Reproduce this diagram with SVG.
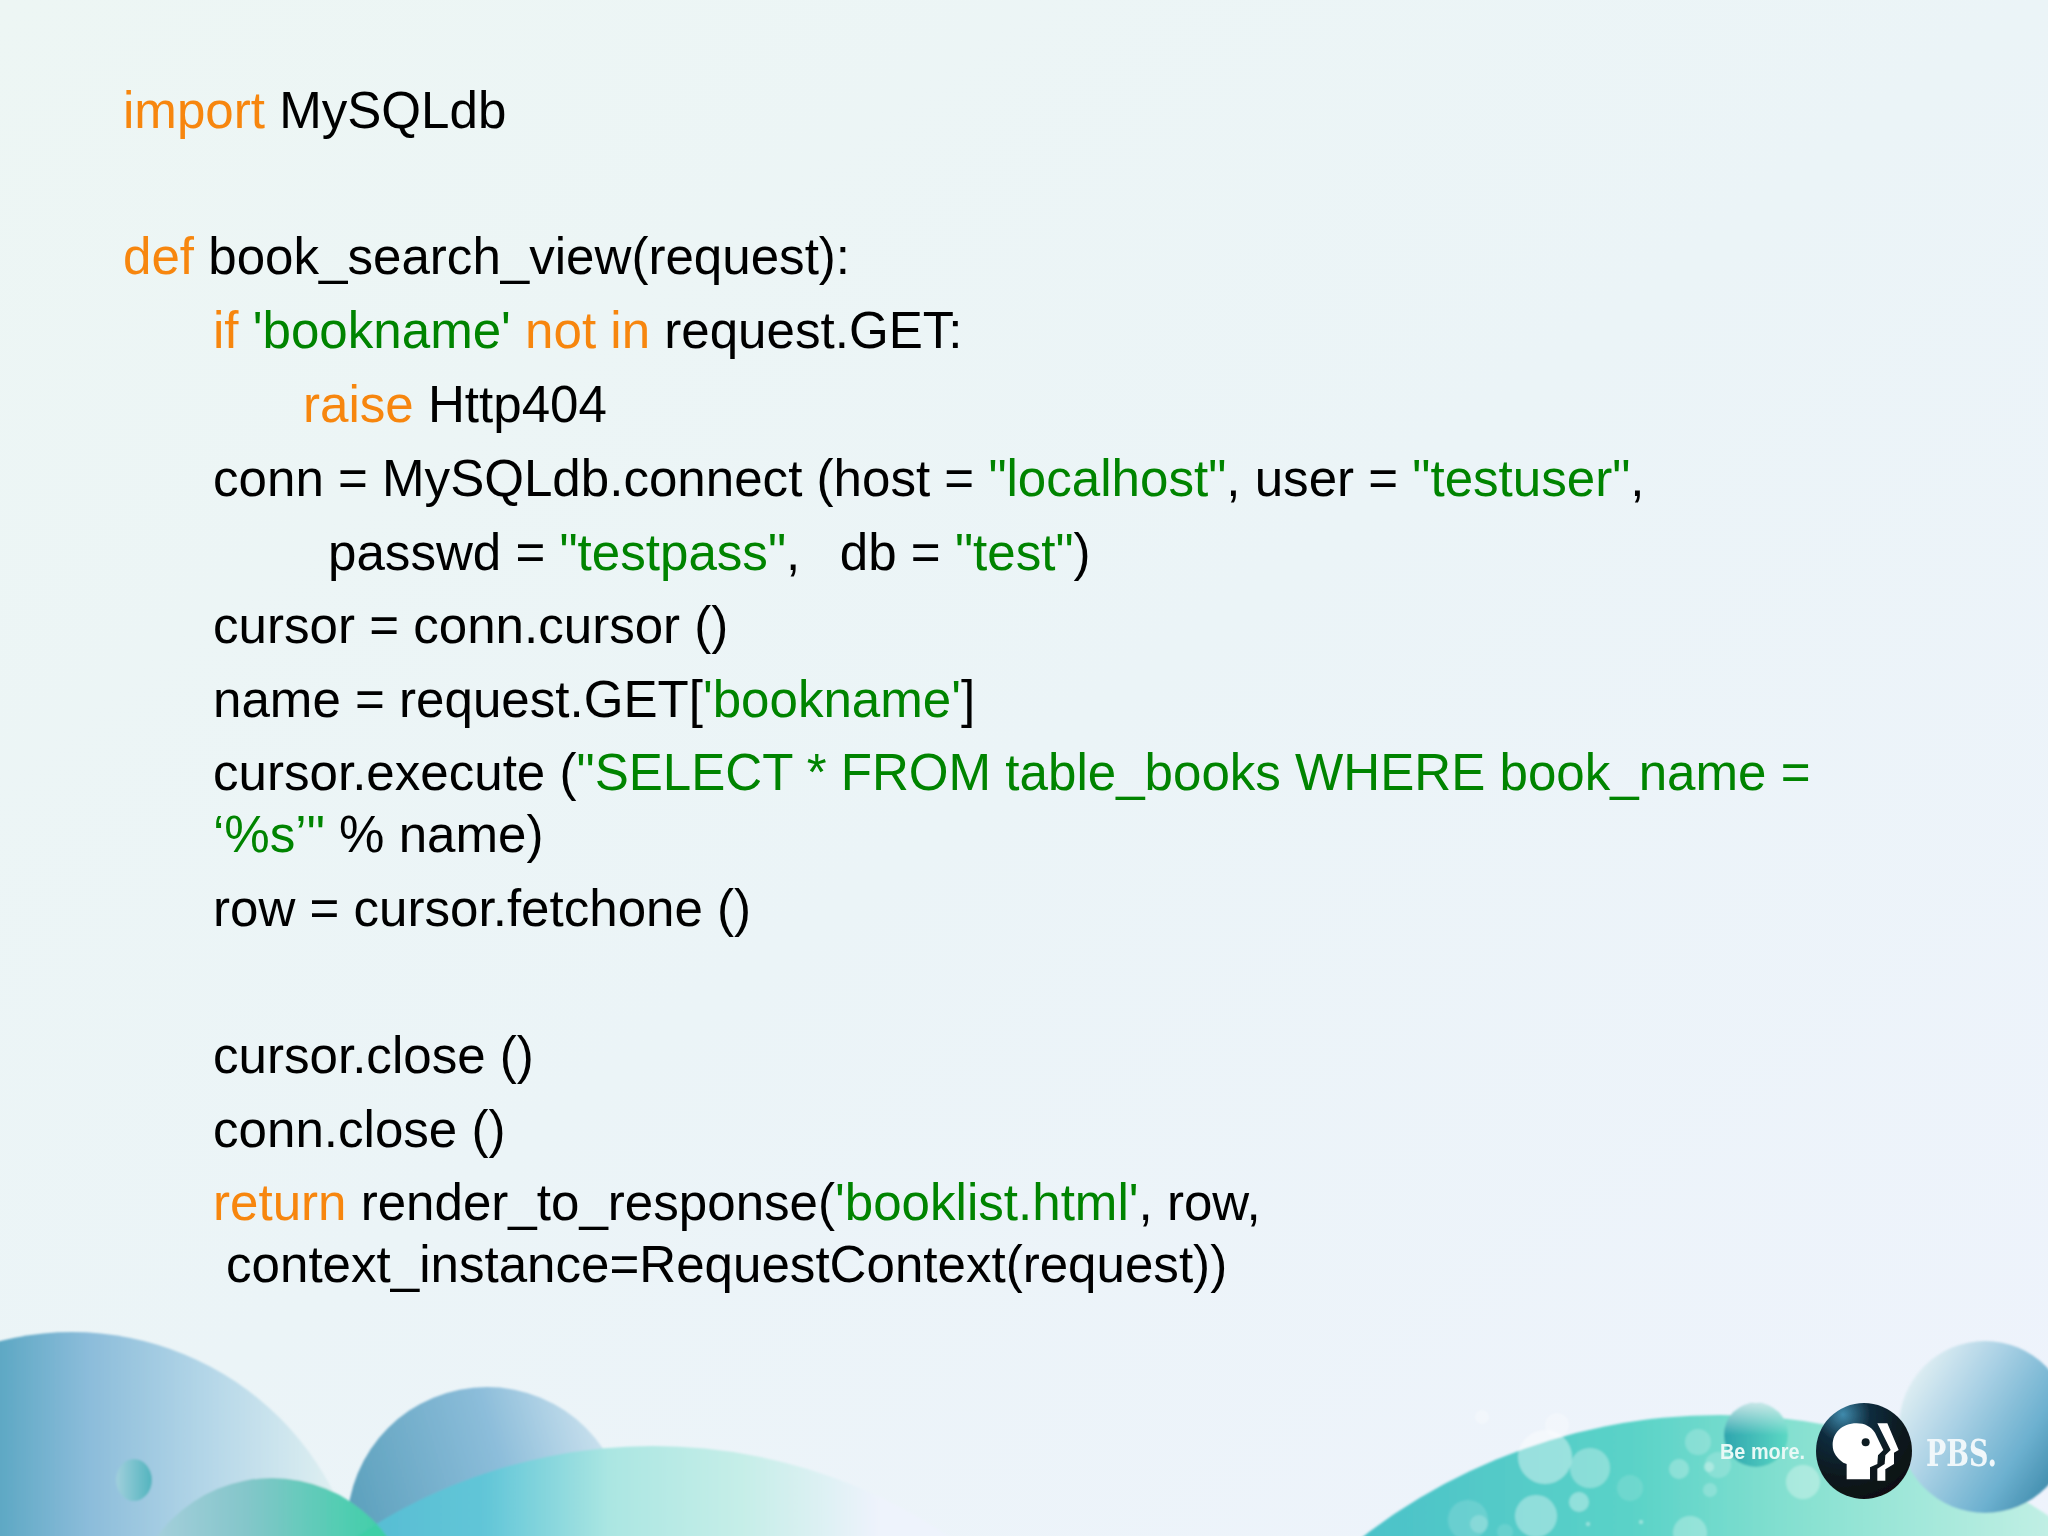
<svg xmlns="http://www.w3.org/2000/svg" width="2048" height="1536" viewBox="0 0 2048 1536">
<defs>
<linearGradient id="bg" x1="0" y1="0" x2="1" y2="1"><stop offset="0" stop-color="#edf6f4"/><stop offset="0.5" stop-color="#ebf4f7"/><stop offset="1" stop-color="#eef3fc"/></linearGradient>
<linearGradient id="c1" gradientUnits="userSpaceOnUse" x1="0" y1="0" x2="350" y2="0"><stop offset="0" stop-color="#5ea8c4"/><stop offset="0.25" stop-color="#8bbcda"/><stop offset="0.6" stop-color="#b5d7e8"/><stop offset="1" stop-color="#e4f2f3"/></linearGradient>
<linearGradient id="c2" x1="0" y1="0.45" x2="1" y2="0.15"><stop offset="0" stop-color="#5ba0bc"/><stop offset="0.55" stop-color="#8cbdda"/><stop offset="1" stop-color="#d8e9f2"/></linearGradient>
<linearGradient id="c3" gradientUnits="userSpaceOnUse" x1="340" y1="0" x2="880" y2="0"><stop offset="0" stop-color="#54bbd2"/><stop offset="0.27" stop-color="#62c6d8"/><stop offset="0.5" stop-color="#abe6e2"/><stop offset="0.75" stop-color="#c6eee8"/><stop offset="1" stop-color="#eef3fc"/></linearGradient>
<linearGradient id="c4" gradientUnits="userSpaceOnUse" x1="150" y1="0" x2="390" y2="0"><stop offset="0" stop-color="#a6cfdc"/><stop offset="0.4" stop-color="#84c6ca"/><stop offset="0.8" stop-color="#52cdb2"/><stop offset="1" stop-color="#3ecfa6"/></linearGradient>
<linearGradient id="c5" x1="0" y1="0" x2="1" y2="0"><stop offset="0" stop-color="#a0cfdc"/><stop offset="1" stop-color="#52b4be"/></linearGradient>
<linearGradient id="hump" gradientUnits="userSpaceOnUse" x1="1364" y1="0" x2="2048" y2="0"><stop offset="0" stop-color="#4cc2c9"/><stop offset="0.4" stop-color="#5bd3c8"/><stop offset="0.62" stop-color="#84e0d0"/><stop offset="1" stop-color="#c0efe4"/></linearGradient>
<linearGradient id="sph" x1="0.05" y1="0.1" x2="1" y2="0.7"><stop offset="0" stop-color="#eaf4f6"/><stop offset="0.4" stop-color="#a8d0e4"/><stop offset="0.75" stop-color="#6cb0cf"/><stop offset="1" stop-color="#3f8bab"/></linearGradient>
<linearGradient id="sph2" x1="0" y1="0" x2="1" y2="0"><stop offset="0" stop-color="#2ea5ae"/><stop offset="1" stop-color="#5cd8c4"/></linearGradient>
<linearGradient id="sph3" x1="0" y1="0" x2="0" y2="1"><stop offset="0" stop-color="#e8f0f2" stop-opacity=".8"/><stop offset="0.5" stop-color="#e8f0f2" stop-opacity="0"/></linearGradient>
<radialGradient id="logo" cx="0.28" cy="0.12" r="0.95"><stop offset="0" stop-color="#3f8aac"/><stop offset="0.3" stop-color="#0f2c3e"/><stop offset="0.65" stop-color="#0d1a20"/><stop offset="1" stop-color="#120f10"/></radialGradient>
<clipPath id="inc4"><circle cx="272" cy="1620" r="142"/></clipPath>
<filter id="soft" x="-5%" y="-5%" width="110%" height="110%"><feGaussianBlur stdDeviation="1"/></filter>
<filter id="soft2" x="-20%" y="-20%" width="140%" height="140%"><feGaussianBlur stdDeviation="0.7"/></filter>
</defs>
<style>
.t{font-family:"Liberation Sans",Arial,sans-serif;font-size:51.1px;fill:#000;white-space:pre}
.o{fill:#f7860e}.g{fill:#008400}
.b{fill:#fff}
</style>
<rect width="2048" height="1536" fill="url(#bg)"/>
<g id="left-shapes" filter="url(#soft)">
<circle cx="72" cy="1626" r="294" fill="url(#c1)"/>
<ellipse cx="134" cy="1480" rx="18" ry="21" fill="url(#c5)"/>
<circle cx="487" cy="1527" r="140" fill="url(#c2)"/>
<circle cx="272" cy="1620" r="142" fill="url(#c4)"/>
<circle cx="653" cy="1976" r="530" fill="url(#c3)"/>
<circle cx="653" cy="1976" r="530" fill="#3ecfa6" clip-path="url(#inc4)"/>
</g>
<g id="right-shapes" filter="url(#soft)">
<circle cx="1720" cy="2000" r="585" fill="url(#hump)"/>
<circle class="b" cx="1557" cy="1425" r="12" opacity=".3"/>
<circle class="b" cx="1482" cy="1417" r="7" opacity=".3"/>
<circle class="b" cx="1545" cy="1457" r="27" opacity=".4"/>
<circle class="b" cx="1590" cy="1468" r="20" opacity=".3"/>
<circle class="b" cx="1679" cy="1469" r="10" opacity=".25"/>
<circle class="b" cx="1698" cy="1442" r="13" opacity=".2"/>
<circle class="b" cx="1630" cy="1488" r="13" opacity=".12"/>
<circle class="b" cx="1579" cy="1502" r="10" opacity=".35"/>
<circle class="b" cx="1536" cy="1516" r="21" opacity=".35"/>
<circle class="b" cx="1468" cy="1520" r="20" opacity=".14"/>
<circle class="b" cx="1479" cy="1524" r="9" opacity=".2"/>
<circle class="b" cx="1505" cy="1532" r="8" opacity=".12"/>
<circle class="b" cx="1718" cy="1465" r="13" opacity=".18"/>
<circle class="b" cx="1709" cy="1467" r="5" opacity=".3"/>
<circle class="b" cx="1710" cy="1490" r="7" opacity=".2"/>
<circle class="b" cx="1690" cy="1533" r="17" opacity=".28"/>
<circle class="b" cx="1803" cy="1482" r="17" opacity=".3"/>
<circle class="b" cx="1588" cy="1524" r="2" opacity=".4"/>
<circle class="b" cx="1641" cy="1522" r="2" opacity=".4"/>
<circle cx="1756" cy="1435" r="32" fill="url(#sph2)"/>
<circle cx="1756" cy="1435" r="32" fill="url(#sph3)"/>
<circle cx="1985" cy="1427" r="86" fill="url(#sph)"/>
</g>
<g id="pbs-logo">
<circle cx="1864" cy="1451" r="48" fill="url(#logo)" filter="url(#soft2)"/>
<g transform="translate(1800 1390) scale(.3333)" filter="url(#soft2)">
<path d="M170 100C125 100 98 130 98 165C98 190 112 205 130 218L140 222L140 268L210 268L210 232L232 222L234 196L250 180L225 128C212 110 195 100 170 100Z" fill="#fff"/>
<path d="M232 100L262 100L296 180L282 188L282 222L256 238L256 272L232 272L232 236L254 222L256 196L272 180Z" fill="#fff"/>
<circle cx="197" cy="157" r="12" fill="#0d1a20"/>
</g>
</g>
<text id="be-more" x="1720" y="1459" font-family="'Liberation Sans',sans-serif" font-weight="700" font-size="22" textLength="85" lengthAdjust="spacingAndGlyphs" fill="#e8f9f6">Be more.</text>
<text id="pbs" x="1926" y="1466" font-family="'DejaVu Serif',serif" font-weight="700" font-size="38" textLength="71" lengthAdjust="spacingAndGlyphs" fill="#f0f7fa">PBS.</text>
<g id="code">
<text class="t" x="123" y="128"><tspan class="o">import</tspan> MySQLdb</text>
<text class="t" x="123" y="274"><tspan class="o">def</tspan> book_search_view(request):</text>
<text class="t" x="213" y="348"><tspan class="o">if</tspan> <tspan class="g">'bookname'</tspan> <tspan class="o">not in</tspan> request.GET:</text>
<text class="t" x="303" y="422"><tspan class="o">raise</tspan> Http404</text>
<text class="t" x="213" y="496">conn = MySQLdb.connect (host = <tspan class="g">"localhost"</tspan>, user = <tspan class="g">"testuser"</tspan>,</text>
<text class="t" x="328" y="570">passwd = <tspan class="g">"testpass"</tspan>,  <tspan dx="-3"> db</tspan> = <tspan class="g">"test"</tspan>)</text>
<text class="t" x="213" y="643">cursor = conn.cursor ()</text>
<text class="t" x="213" y="717">name = request.GET[<tspan class="g">'bookname'</tspan>]</text>
<text class="t" x="213" y="790">cursor.execute (<tspan class="g">"SELECT * FROM table_books WHERE book_name =</tspan></text>
<text class="t" x="213" y="852"><tspan class="g">‘%s’"</tspan> % name)</text>
<text class="t" x="213" y="926">row = cursor.fetchone ()</text>
<text class="t" x="213" y="1073">cursor.close ()</text>
<text class="t" x="213" y="1147">conn.close ()</text>
<text class="t" x="213" y="1220"><tspan class="o">return</tspan> render_to_response(<tspan class="g">'booklist.html'</tspan>, row,</text>
<text class="t" x="226" y="1282">context_instance=RequestContext(request))</text>
</g>
</svg>
